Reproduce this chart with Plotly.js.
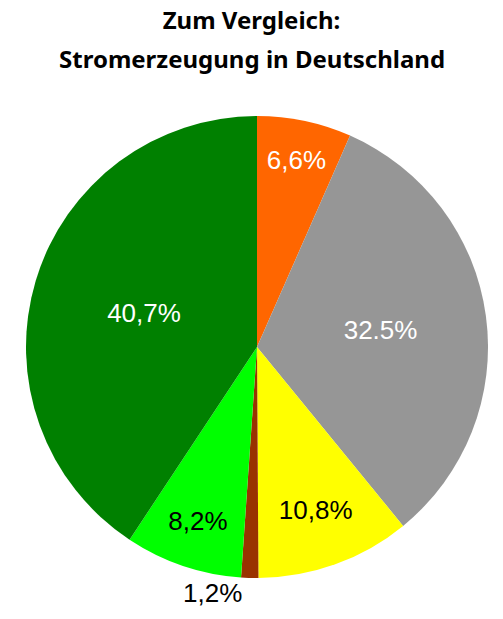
<!DOCTYPE html>
<html><head><meta charset="utf-8">
<script src="https://cdn.plot.ly/plotly-3.0.1.min.js"></script>
<style>html,body{margin:0;padding:0;background:#fff}</style>
</head><body>
<div id="chart" style="width:503px;height:619px"></div>
<script>
const categories = ['Kernenergie', 'Braunkohle/Steinkohle/Gas', 'Sonstige', 'Öl', 'Erneuerbare', 'Erneuerbare Energien'];
const values = [6.6, 32.5, 10.8, 1.2, 8.2, 40.7];
const labels = ['6,6%', '32.5%', '10,8%', '1,2%', '8,2%', '40,7%'];
const colors = ['#ff6600', '#969696', '#ffff00', '#993300', '#00ff00', '#008000'];
const textColors = ['#ffffff', '#ffffff', '#000000', '#000000', '#000000', '#ffffff'];
const positions = ['inside', 'inside', 'inside', 'outside', 'inside', 'inside'];
const titleLines = ['Zum Vergleich:', 'Stromerzeugung in Deutschland'];

const titleFont = {family: 'Noto Sans, Open Sans, sans-serif', size: 24, color: '#000000'};

const data = [{
  type: 'pie',
  labels: categories,
  values: values,
  text: labels,
  textinfo: 'text',
  hoverinfo: 'label+text',
  sort: false,
  direction: 'clockwise',
  rotation: 0,
  marker: {colors: colors, line: {width: 0}},
  textposition: positions,
  insidetextorientation: 'horizontal',
  textfont: {family: 'Liberation Sans, Arial, sans-serif', size: 26, color: textColors},
  outsidetextfont: {family: 'Liberation Sans, Arial, sans-serif', size: 26, color: '#000000'},
  domain: {x: [26/503, 488/503], y: [1 - 578/619, 1 - 116/619]},
  showlegend: false
}];

const layout = {
  width: 503, height: 619,
  margin: {l: 0, r: 0, t: 0, b: 0},
  paper_bgcolor: '#ffffff',
  title: {
    text: '<b>' + titleLines[0] + '</b>',
    font: titleFont,
    x: 0.5, xanchor: 'center', xref: 'paper',
    y: 1 - 21/619, yanchor: 'middle', yref: 'container'
  },
  annotations: [{
    text: '<b>' + titleLines[1] + '</b>',
    font: titleFont,
    xref: 'paper', yref: 'paper', x: 0.5, xanchor: 'center',
    y: 1 - 59/619, yanchor: 'middle', showarrow: false
  }],
  showlegend: false
};
Plotly.newPlot('chart', data, layout, {displayModeBar: false, staticPlot: true});
</script>
</body></html>
